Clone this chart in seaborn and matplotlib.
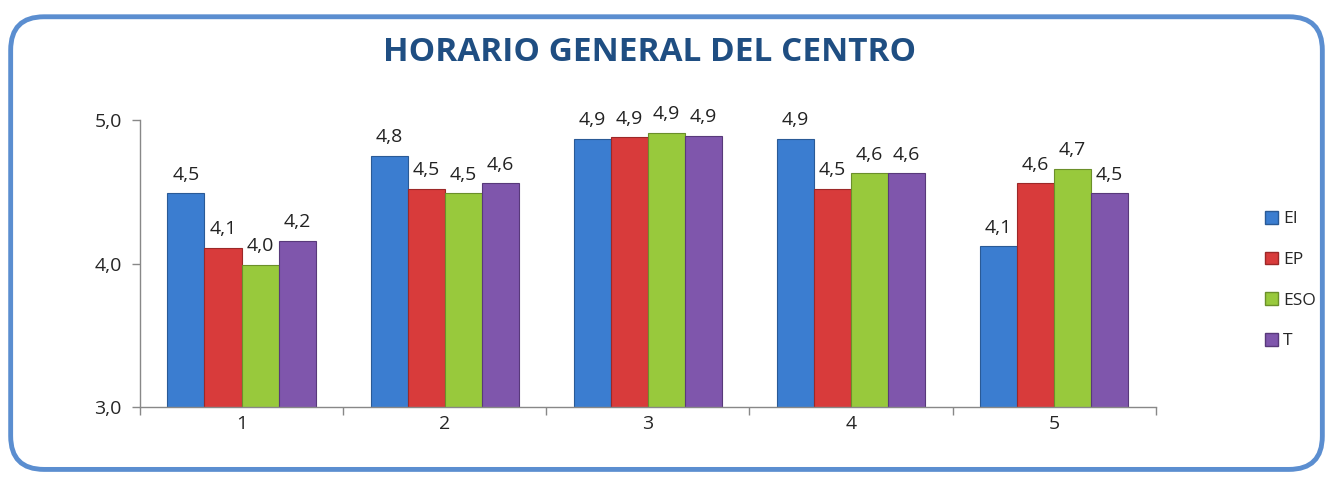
import pandas as pd
import numpy as np
import matplotlib.pyplot as plt
import matplotlib.patches as mpatches
from matplotlib.patches import FancyBboxPatch
import seaborn as sns

# ── Data ─────────────────────────────────────────────────────
grupos = ['1', '2', '3', '4', '5']
series = ['EI', 'EP', 'ESO', 'T']
ei  = [4.49, 4.75, 4.87, 4.87, 4.12]
ep  = [4.11, 4.52, 4.88, 4.52, 4.56]
eso = [3.99, 4.49, 4.91, 4.63, 4.66]
t   = [4.16, 4.56, 4.89, 4.63, 4.49]

colores = ['#3b7dd0', '#d83b3b', '#98c93c', '#7f56ac']
bordes  = ['#2a5a96', '#9c2828', '#6b8f2a', '#58397a']

df = pd.DataFrame({
    'grupo': grupos * 4,
    'serie': np.repeat(series, len(grupos)),
    'valor': ei + ep + eso + t,
})

# ── Style ────────────────────────────────────────────────────
sns.set_style('white')
plt.rcParams['font.family'] = ['Open Sans', 'DejaVu Sans']

fig = plt.figure(figsize=(13.33, 4.79), dpi=100)
fig.patch.set_facecolor('white')

# rounded frame (behind the axes)
frame = FancyBboxPatch((0.008, 0.02), 0.984, 0.945,
                       boxstyle='round,pad=0,rounding_size=0.025',
                       transform=fig.transFigure, facecolor='white',
                       edgecolor='#5b8ed0', linewidth=3.5, zorder=-10,
                       mutation_aspect=1333 / 479)
fig.patches.append(frame)

ax = fig.add_axes([0.105, 0.150, 0.762, 0.599])
ax.set_facecolor('none')
ax.set_zorder(5)

sns.barplot(data=df, x='grupo', y='valor', hue='serie', palette=colores,
            width=0.73, ax=ax, legend=False, saturation=1)

for cont, bc in zip(ax.containers, bordes):
    for b in cont:
        b.set_edgecolor(bc)
        b.set_linewidth(0.8)
    ax.bar_label(cont, labels=[f'{v:.1f}'.replace('.', ',') for v in cont.datavalues],
                 padding=7, fontsize=14, color='#222222')

ax.set_ylim(3, 5)
ax.set_xlim(-0.5, 4.5)
ax.set_yticks([3, 4, 5])
ax.set_yticklabels(['3,0', '4,0', '5,0'], fontsize=14)
ax.tick_params(axis='x', which='major', length=0, labelsize=14, pad=6)
ax.set_xticks(np.arange(-0.5, 5, 1), minor=True)
ax.tick_params(axis='x', which='minor', bottom=True, length=6, width=1,
               color='#888888', direction='out')
ax.tick_params(axis='y', left=True, length=6, width=1, color='#888888',
               direction='out', pad=7)
ax.set_xlabel('')
ax.set_ylabel('')
for s in ['top', 'right']:
    ax.spines[s].set_visible(False)
for s in ['left', 'bottom']:
    ax.spines[s].set_color('#888888')
    ax.spines[s].set_linewidth(1)

fig.text(0.487, 0.89, 'HORARIO GENERAL DEL CENTRO', ha='center', va='center',
         fontsize=24, fontweight='bold', color='#1f4e82')

handles = [mpatches.Patch(facecolor=c, edgecolor=e, label=s)
           for s, c, e in zip(series, colores, bordes)]
fig.legend(handles=handles, loc='center left', bbox_to_anchor=(0.937, 0.415),
           frameon=False, fontsize=12.5, handlelength=0.75, handleheight=0.75,
           handletextpad=0.3, labelspacing=1.4)

fig.savefig('out.png', dpi=100, facecolor='white')
